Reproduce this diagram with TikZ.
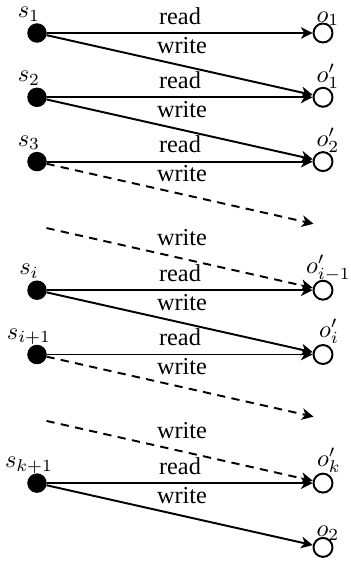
\documentclass[tikz,border=0pt]{standalone}
\usepackage[no-math]{fontspec}
\setmainfont{Liberation Serif}
\usetikzlibrary{arrows.meta}
\begin{document}
\begin{tikzpicture}[x=0.4115pt,y=-0.4115pt,
  subj/.style={circle,fill=black,draw=black,inner sep=0pt,minimum size=7.6pt},
  obj/.style={circle,draw=black,thick,fill=white,inner sep=0pt,minimum size=7.8pt},
  ghost/.style={circle,inner sep=0pt,minimum size=7.6pt},
  conn/.style={thick,-{Stealth[length=4.8pt,width=4.8pt,inset=1.4pt]}},
  dconn/.style={conn,dashed,dash pattern=on 3.4pt off 2.6pt},
  lab/.style={anchor=base,inner sep=0pt,font=\fontsize{10}{12}\selectfont},
  mlab/.style={anchor=base,inner sep=0pt}]
\useasboundingbox (0,0) rectangle (350,565);
% rows
\def\rA{33}\def\rB{97.3}\def\rC{161.6}\def\rD{225.9}\def\rE{290.2}
\def\rF{354.5}\def\rG{418.8}\def\rH{483.1}\def\rI{547.4}
% subjects
\node[subj] (s1) at (37,\rA) {};
\node[subj] (s2) at (37,\rB) {};
\node[subj] (s3) at (37,\rC) {};
\node[ghost] (g1) at (37,\rD) {};
\node[subj] (si) at (37,\rE) {};
\node[subj] (si1) at (37,\rF) {};
\node[ghost] (g2) at (37,\rG) {};
\node[subj] (sk1) at (37,\rH) {};
% objects
\node[obj] (o1) at (323,\rA) {};
\node[obj] (o1p) at (323,\rB) {};
\node[obj] (o2p) at (323,\rC) {};
\node[ghost] (h1) at (323,\rD) {};
\node[obj] (oim) at (323,\rE) {};
\node[obj] (oi) at (323,\rF) {};
\node[ghost] (h2) at (323,\rG) {};
\node[obj] (okp) at (323,\rH) {};
\node[obj] (o2) at (323,\rI) {};
% subject labels
\node[mlab] (ls1) at (29,\rA-15.5) {$s_1$};
\node[mlab] (ls2) at (29,\rB-15.5) {$s_2$};
\node[mlab] (ls3) at (29,\rC-15.5) {$s_3$};
\node[mlab] (lsi) at (29,\rE-15.5) {$s_i$};
\node[mlab] (lsi1) at (29,\rF-15.5) {$s_{i+1}$};
\node[mlab] (lsk1) at (29,\rH-15.5) {$s_{k+1}$};
% object labels
\node[mlab] (lo1) at (328,\rA-11) {$o_1$};
\node[mlab] (lo1p) at (328,\rB-15) {$o'_1$};
\node[mlab] (lo2p) at (328,\rC-15) {$o'_2$};
\node[mlab] (loim) at (328.5,\rE-17) {$o'_{i-1}$};
\node[mlab] (loi) at (329,\rF-17) {$o'_i$};
\node[mlab] (lokp) at (329,\rH-17) {$o'_k$};
\node[mlab] (lo2) at (328,\rI-11) {$o_2$};
% read / write labels
\foreach \y/\n in {\rA/a,\rB/b,\rC/c,\rE/e,\rF/f,\rH/h}{
  \node[lab] (read\n) at (180,\y-9) {read};
}
\foreach \y/\n in {\rA/a,\rB/b,\rC/c,\rD/d,\rE/e,\rF/f,\rG/g,\rH/h}{
  \node[lab] (write\n) at (182,\y+20) {write};
}
% connectors
\draw[conn] (s1) -- (o1);
\draw[conn] (s1) -- (o1p);
\draw[conn] (s2) -- (o1p);
\draw[conn] (s2) -- (o2p);
\draw[conn] (s3) -- (o2p);
\draw[dconn] (s3) -- (h1);
\draw[dconn] (g1) -- (oim);
\draw[conn] (si) -- (oim);
\draw[conn] (si) -- (oi);
\draw[conn] (si1) -- (oi);
\draw[dconn] (si1) -- (h2);
\draw[dconn] (g2) -- (okp);
\draw[conn] (sk1) -- (okp);
\draw[conn] (sk1) -- (o2);
\end{tikzpicture}
\end{document}
